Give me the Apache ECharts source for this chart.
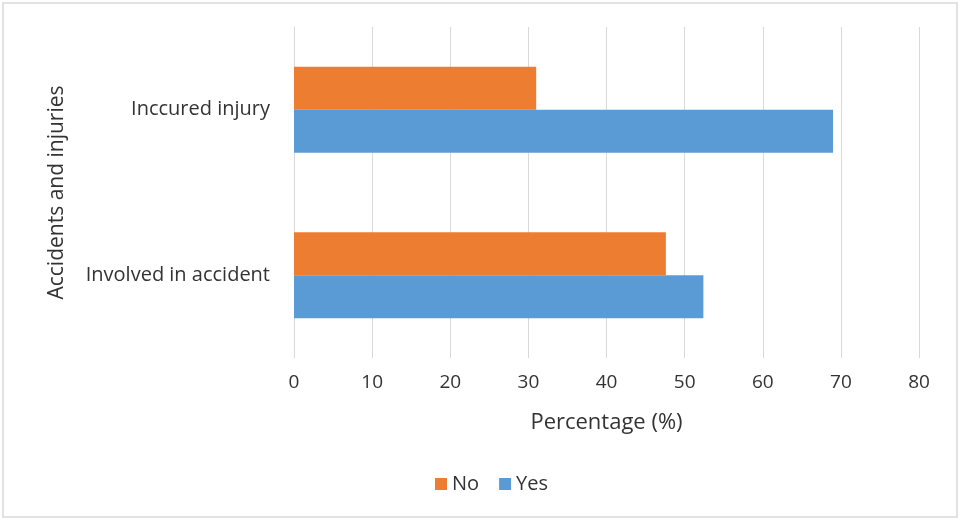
<!DOCTYPE html>
<html>
<head>
<meta charset="utf-8">
<script src="https://cdn.jsdelivr.net/npm/echarts@6/dist/echarts.min.js"></script>
<style>
html, body { margin: 0; padding: 0; background: #fff; }
#chart { width: 960px; height: 519px; }
</style>
</head>
<body>
<div id="chart"></div>
<script>
// categories bottom -> top, like the category axis draws them
var categories = ['Involved in accident', 'Inccured injury'];
var noValues = [47.6, 31];
var yesValues = [52.4, 69];
var xTicks = [0, 10, 20, 30, 40, 50, 60, 70, 80];

var myChart = echarts.init(document.getElementById('chart'));
var txt = '#333333';
var font = 'Open Sans';

var option = {
    backgroundColor: '#fff',
    animation: false,
    graphic: [{
        type: 'rect',
        shape: { x: 3, y: 3, width: 954, height: 514 },
        style: { fill: 'none', stroke: '#d9d9d9', lineWidth: 1.5 },
        silent: true
    }],
    legend: {
        data: ['No', 'Yes'],
        bottom: 20,
        left: 430,
        icon: 'rect',
        itemWidth: 12,
        itemHeight: 12,
        itemGap: 20,
        textStyle: { color: txt, fontSize: 20, fontFamily: font }
    },
    grid: { left: 294, right: 41, top: 27, bottom: 161, containLabel: false },
    xAxis: {
        type: 'value',
        min: xTicks[0],
        max: xTicks[xTicks.length - 1],
        interval: 10,
        name: 'Percentage (%)',
        nameLocation: 'middle',
        nameGap: 54,
        nameTextStyle: { color: txt, fontSize: 22, fontFamily: font },
        axisLine: { show: false },
        axisTick: { show: false },
        axisLabel: { color: txt, fontSize: 19, fontFamily: font, margin: 15 },
        splitLine: { lineStyle: { color: '#d9d9d9', width: 1 } }
    },
    yAxis: {
        type: 'category',
        data: categories,
        name: 'Accidents and injuries',
        nameLocation: 'middle',
        nameRotate: 90,
        nameGap: 226,
        nameTextStyle: { color: txt, fontSize: 21, fontFamily: font },
        axisLine: { lineStyle: { color: '#d9d9d9', width: 1 } },
        axisTick: { show: false },
        axisLabel: { color: txt, fontSize: 20, fontFamily: font, margin: 24 }
    },
    series: [
        {
            name: 'No',
            type: 'bar',
            data: noValues,
            barWidth: 43,
            barGap: '0%',
            itemStyle: { color: '#ED7D31' }
        },
        {
            name: 'Yes',
            type: 'bar',
            data: yesValues,
            barWidth: 43,
            barGap: '0%',
            itemStyle: { color: '#5B9BD5' }
        }
    ]
};

myChart.setOption(option);
</script>
</body>
</html>
